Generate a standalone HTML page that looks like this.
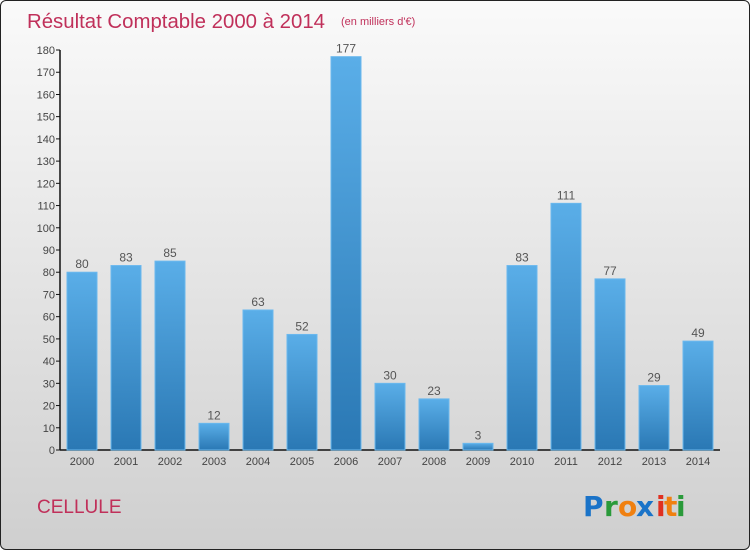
<!DOCTYPE html>
<html><head><meta charset="utf-8"><style>
body{margin:0}
#c{position:relative;width:748px;height:548px;border:1px solid #222;border-radius:6px;overflow:hidden;background:linear-gradient(#fafafa,#cfcfcf);font-family:"Liberation Sans",sans-serif}
</style></head><body>
<div id="c">
<svg width="748" height="548" viewBox="1 1 748 548" id="s">
<defs><linearGradient id="g" x1="0" y1="0" x2="0" y2="1"><stop offset="0" stop-color="#5aaee8"/><stop offset="1" stop-color="#2a78b4"/></linearGradient></defs>
<text x="27" y="28" font-size="20" fill="#c0305a" textLength="298" lengthAdjust="spacingAndGlyphs">Résultat Comptable 2000 à 2014</text>
<text x="341" y="25" font-size="11" fill="#c0305a">(en milliers d'€)</text>
<text x="37" y="513" font-size="19" fill="#c0305a">CELLULE</text>
<g font-size="28" font-weight="bold" font-family="DejaVu Sans,sans-serif">
<text x="583" y="516" fill="#1a73c8">P</text><text x="604" y="516" fill="#2a9a3a">r</text><text x="618" y="516" fill="#f08010">o</text><text x="636" y="516" fill="#1a73c8">x</text><text x="656" y="516" fill="#e03020">i</text><text x="664" y="516" fill="#f08010">t</text><text x="676" y="516" fill="#2a9a3a">i</text>
</g>
<g id="ax"></g><g id="bars"></g>
</svg></div>
<script>
const categories=["2000","2001","2002","2003","2004","2005","2006","2007","2008","2009","2010","2011","2012","2013","2014"];
const values=[80,83,85,12,63,52,177,30,23,3,83,111,77,29,49];
const yTicks=[0,10,20,30,40,50,60,70,80,90,100,110,120,130,140,150,160,170,180];
const NS="http://www.w3.org/2000/svg";
const y=v=>450-v*400/180;
const x=i=>67+i*44;
function mk(t,a,p){const e=document.createElementNS(NS,t);for(const k in a)e.setAttribute(k,a[k]);p.appendChild(e);return e;}
const ax=document.getElementById('ax'),bg=document.getElementById('bars');
const yl=mk('line',{x1:60,x2:60,y1:y(180),y2:450,stroke:'#111','stroke-width':1.5},ax);


const xl=mk('line',{x1:60,x2:720,y1:450,y2:450,stroke:'#111','stroke-width':1.5},ax);


yTicks.forEach(v=>{
 mk('line',{x1:56,x2:60,y1:y(v),y2:y(v),stroke:'#111'},ax);
 const t=mk('text',{x:55,y:y(v)+4,'font-size':11,fill:'#444','text-anchor':'end'},ax);t.textContent=v;
 
 
});
categories.forEach((c,i)=>{
 const r=mk('rect',{x:x(i),y:y(values[i]),width:30,height:450-y(values[i]),fill:'url(#g)',stroke:'#6ab8ee','stroke-width':1},bg);
 
 
 const l=mk('text',{x:x(i)+15,y:y(values[i])-4,'font-size':12,fill:'#555','text-anchor':'middle'},bg);l.textContent=values[i];
 
 
 const t=mk('text',{x:x(i)+15,y:465,'font-size':11,fill:'#444','text-anchor':'middle'},ax);t.textContent=c;
 
 
});
</script>
</body></html>
